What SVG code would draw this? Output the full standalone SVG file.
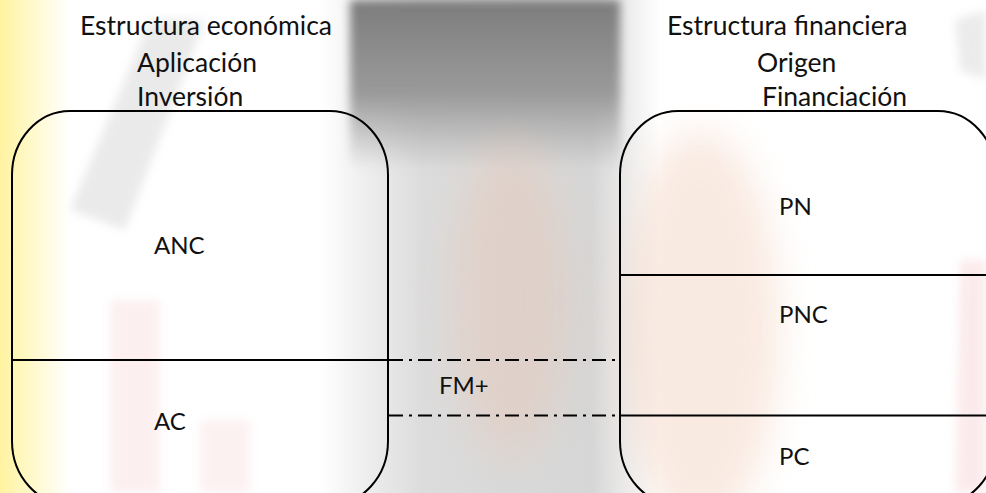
<svg xmlns="http://www.w3.org/2000/svg" width="986" height="493" viewBox="0 0 986 493">
  <defs>
    <style>
      .t { font-family: Lato, "Open Sans", "Liberation Sans", sans-serif; font-size: 24px; fill: #111; }
      .h { font-size: 26.5px; }
      .box { fill: none; stroke: #000; stroke-width: 2; }
      .div { stroke: #000; stroke-width: 2; }
      .dd { stroke: #000; stroke-width: 2; stroke-dasharray: 14 6 3 6; fill: none; }
    </style>
    <linearGradient id="yel" x1="0" y1="0" x2="1" y2="0">
      <stop offset="0" stop-color="#fff3a0"/>
      <stop offset="1" stop-color="#fff3a0" stop-opacity="0"/>
    </linearGradient>
    <linearGradient id="band" x1="0" y1="0" x2="1" y2="0">
      <stop offset="0" stop-color="#d8d8d8" stop-opacity="0"/>
      <stop offset="0.3" stop-color="#dcdcdc"/>
      <stop offset="0.8" stop-color="#d6d6d6"/>
      <stop offset="1" stop-color="#d8d8d8" stop-opacity="0"/>
    </linearGradient>
    <linearGradient id="top" x1="0" y1="0" x2="0" y2="1">
      <stop offset="0" stop-color="#7c7c7c"/>
      <stop offset="0.55" stop-color="#9a9a9a"/>
      <stop offset="1" stop-color="#a0a0a0" stop-opacity="0"/>
    </linearGradient>
    <filter id="blur" x="-50%" y="-50%" width="200%" height="200%">
      <feGaussianBlur stdDeviation="18"/>
    </filter>
    <filter id="blur2" x="-50%" y="-50%" width="200%" height="200%">
      <feGaussianBlur stdDeviation="5"/>
    </filter>
  </defs>

  <g id="background">
    <rect x="0" y="0" width="986" height="493" fill="#ffffff"/>
    <rect x="0" y="0" width="70" height="493" fill="url(#yel)"/>
    <rect x="320" y="0" width="340" height="493" fill="url(#band)"/>
    <rect x="350" y="0" width="270" height="170" fill="url(#top)" filter="url(#blur2)"/>
    <ellipse cx="700" cy="330" rx="80" ry="200" fill="#f5d9c9" opacity="0.55" filter="url(#blur)"/>
    <ellipse cx="510" cy="300" rx="60" ry="160" fill="#e9c6b3" opacity="0.4" filter="url(#blur)"/>
    <path d="M70 210 L150 20 L205 20 L125 230 Z" fill="#d2d2d2" opacity="0.45" filter="url(#blur2)"/>
    <path d="M110 300 L160 300 L160 493 L110 493 Z" fill="#f2b4b8" opacity="0.2" filter="url(#blur2)"/>
    <path d="M200 420 L250 420 L250 493 L200 493 Z" fill="#f2b4b8" opacity="0.18" filter="url(#blur2)"/>
    <path d="M960 260 L986 260 L986 493 L955 493 Z" fill="#f2b0b4" opacity="0.25" filter="url(#blur2)"/>
    <path d="M955 20 L986 10 L986 80 L960 70 Z" fill="#cfcfcf" opacity="0.4" filter="url(#blur2)"/>
  </g>

  <g id="header-left">
    <text class="t h" x="80" y="35">Estructura económica</text>
    <text class="t h" x="137" y="72">Aplicación</text>
    <text class="t h" x="137" y="106">Inversión</text>
  </g>

  <g id="header-right">
    <text class="t h" x="667" y="35">Estructura financiera</text>
    <text class="t h" x="757" y="72">Origen</text>
    <text class="t h" x="762" y="106">Financiación</text>
  </g>

  <g id="estructura-economica">
    <rect class="box" x="12" y="111" width="376" height="394" rx="58" ry="64"/>
    <line class="div" x1="12" y1="360" x2="388" y2="360"/>
    <text class="t" x="154" y="254">ANC</text>
    <text class="t" x="154" y="430">AC</text>
  </g>

  <g id="estructura-financiera">
    <rect class="box" x="620" y="111" width="376" height="394" rx="58" ry="64"/>
    <line class="div" x1="620" y1="275" x2="986" y2="275"/>
    <line class="div" x1="620" y1="415.5" x2="986" y2="415.5"/>
    <text class="t" x="779" y="215">PN</text>
    <text class="t" x="779" y="323">PNC</text>
    <text class="t" x="779" y="465">PC</text>
  </g>

  <g id="connectors">
    <line class="dd" x1="389" y1="360" x2="617" y2="360"/>
    <line class="dd" x1="389" y1="415.5" x2="619" y2="415.5"/>
  </g>

  <g id="fm">
    <text class="t" x="439" y="394">FM+</text>
  </g>
</svg>
